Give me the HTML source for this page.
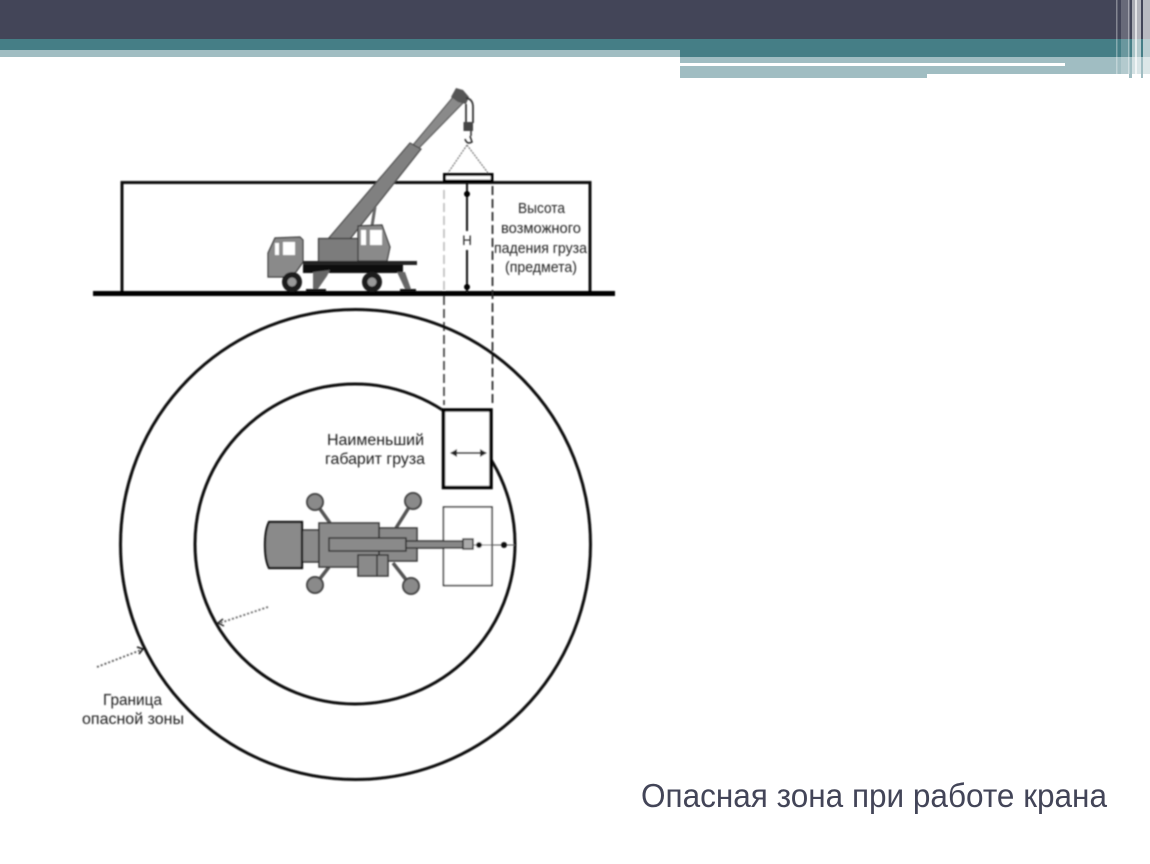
<!DOCTYPE html>
<html lang="ru">
<head>
<meta charset="utf-8">
<title>Опасная зона при работе крана</title>
<style>
html,body{margin:0;padding:0;background:#fff;width:1150px;height:864px;overflow:hidden}
svg{display:block}
text{font-family:"Liberation Sans","DejaVu Sans",sans-serif}
</style>
</head>
<body>
<svg width="1150" height="864" viewBox="0 0 1150 864" xmlns="http://www.w3.org/2000/svg">
<defs>
<filter id="b" x="-5%" y="-5%" width="110%" height="110%"><feGaussianBlur stdDeviation="0.75"/></filter>
</defs>
<rect width="1150" height="864" fill="#fff"/>

<!-- header -->
<rect x="0" y="0" width="1150" height="39" fill="#434558"/>
<rect x="0" y="39" width="1150" height="18" fill="#457e86"/>
<rect x="0" y="50" width="680" height="7" fill="#a0bdc2"/>
<rect x="680" y="57" width="470" height="17" fill="#a0bdc2"/>
<rect x="680" y="74" width="247" height="4" fill="#a0bdc2"/>
<rect x="680" y="63" width="385" height="3" fill="#fff"/>
<!-- right stripes -->
<g fill="#fff">
<rect x="1116" y="0" width="1.500" height="74" opacity=".35"/>
<rect x="1121" y="0" width="7" height="74" opacity=".2"/>
<rect x="1128" y="0" width="1.500" height="74" opacity=".5"/>
<rect x="1132" y="0" width="3" height="78" opacity=".55"/>
<rect x="1135" y="0" width="2" height="78" opacity=".85"/>
<rect x="1137" y="0" width="4" height="78" opacity=".6"/>
<rect x="1143" y="0" width="7" height="78" opacity=".63"/>
</g>
<rect x="1129" y="74" width="3" height="4" fill="#a0bdc2"/>
<rect x="1141" y="74" width="2" height="4" fill="#a0bdc2"/>

<g filter="url(#b)">
<!-- building outline -->
<path d="M122 293V182.500H590V293" fill="none" stroke="#111" stroke-width="3"/>
<!-- ground -->
<rect x="93" y="291" width="522" height="5" fill="#000"/>

<!-- boom -->
<polygon points="413,145 453,97 463,103 419,148" fill="#8a8a8a" stroke="#444" stroke-width="1"/>
<polygon points="328,239 410,143 421,149 350,239" fill="#808080" stroke="#444" stroke-width="1.200"/>
<polygon points="451,97 456,88 463,90 469,97 466,104 458,102" fill="#555"/>
<!-- cable and hook -->
<path d="M466 98Q473 99 473 107V123M466 104V123" fill="none" stroke="#333" stroke-width="1.800"/>
<rect x="463.500" y="122" width="9.500" height="9" fill="#444"/>
<path d="M471 131V136M465 139Q467 145 472 142L470 136" fill="none" stroke="#222" stroke-width="1.500"/>
<path d="M467 145L448 173M467 145L488 173" fill="none" stroke="#666" stroke-width="1.100" stroke-dasharray="2 1"/>
<!-- load -->
<rect x="444.500" y="174.500" width="47.500" height="6.500" fill="#fff" stroke="#000" stroke-width="3"/>

<!-- truck side -->
<path d="M375 207L372 226" stroke="#666" stroke-width="3"/>
<polygon points="268,272 268,253 275,238 300,237 303,240 303,262 296,272 284,277 268,277" fill="#8a8a8a" stroke="#333" stroke-width="1.200"/>
<rect x="283" y="242" width="12" height="13" fill="#fff"/>
<rect x="275" y="243" width="4" height="12" fill="#fff"/>
<rect x="318.500" y="238.500" width="40" height="23" fill="#7c7c7c" stroke="#333" stroke-width="1.200"/>
<polygon points="358,226 382,225 390,247 387,261 358,261" fill="#8a8a8a" stroke="#333" stroke-width="1.200"/>
<rect x="370" y="230" width="12" height="15" fill="#fff"/>
<rect x="361" y="230" width="5" height="15" fill="#fff"/>
<rect x="303" y="261" width="114" height="4" fill="#222"/>
<rect x="303" y="265" width="100" height="8" fill="#111"/>
<polygon points="313,272 330,270 327,276 318,289 313,289" fill="#666"/>
<polygon points="397,272 405,272 411,289 405,289" fill="#666"/>
<rect x="306" y="289" width="20" height="3" fill="#111"/>
<rect x="400" y="289" width="16" height="3" fill="#111"/>
<circle cx="292" cy="282" r="10" fill="#1a1a1a"/><circle cx="292" cy="282" r="4.500" fill="#999"/>
<circle cx="372" cy="282" r="10" fill="#1a1a1a"/><circle cx="372" cy="282" r="4.500" fill="#999"/>

<!-- height dimension -->
<path d="M467 183V231M467 250V293" stroke="#111" stroke-width="2"/>
<circle cx="467" cy="194" r="3" fill="#000"/>
<circle cx="467" cy="287" r="3" fill="#000"/>
<text x="467" y="245" font-size="13.500" fill="#222" text-anchor="middle">Н</text>

<!-- dashes -->
<path d="M444 190V291" stroke="#bbb" stroke-width="1.600" stroke-dasharray="9 4"/>
<path d="M444 296V405" stroke="#333" stroke-width="1.600" stroke-dasharray="9 4"/>
<path d="M492.500 186V405" stroke="#222" stroke-width="1.700" stroke-dasharray="9 4"/>

<!-- circles -->
<circle cx="355.500" cy="544.500" r="235" fill="none" stroke="#111" stroke-width="3"/>
<circle cx="355" cy="544" r="160" fill="none" stroke="#111" stroke-width="3"/>

<!-- smallest size rect -->
<rect x="443.500" y="410" width="47.500" height="77.500" fill="#fff" stroke="#000" stroke-width="3.500"/>
<path d="M451 453H486" stroke="#222" stroke-width="1.800"/>
<path d="M457 449L450 453L457 457ZM480 449L487 453L480 457Z" fill="#222"/>
<!-- faint rect -->
<rect x="443.500" y="507" width="48.500" height="78.500" fill="#fff" stroke="#333" stroke-width="1.500"/>

<!-- truck plan -->
<g stroke="#555" stroke-width="3.500"><path d="M315 502L330 523M413 501L396 528M315 585L329 567M411 586L393 563"/></g>
<g fill="#8a8a8a" stroke="#444" stroke-width="2">
<circle cx="315" cy="502" r="8"/><circle cx="413" cy="501" r="8"/><circle cx="315" cy="585" r="8"/><circle cx="411" cy="586" r="8"/>
</g>
<g fill="#8a8a8a" stroke="#333" stroke-width="1.500">
<rect x="302" y="530" width="17" height="32"/>
<path d="M269 522H302V568H269Q265 560 265 545Q265 530 269 522Z" stroke="#111" stroke-width="2.200"/>
<rect x="379" y="528" width="38" height="33"/>
<rect x="319" y="523" width="60" height="44"/>
<rect x="358" y="555" width="30" height="21"/>
<path d="M377 555V576" fill="none"/>
<rect x="329" y="538" width="77" height="13"/>
<rect x="406" y="541" width="57" height="7" fill="#888"/>
<rect x="463" y="539" width="10" height="10" fill="#aaa"/>
</g>
<path d="M473 545H515" stroke="#555" stroke-width="1.100"/>
<circle cx="479" cy="545" r="3" fill="#111"/>
<circle cx="504" cy="545" r="3" fill="#111"/>

<!-- pointers -->
<path d="M97 667L141 650" stroke="#555" stroke-width="1.800" stroke-dasharray="2 2"/>
<path d="M137 647L143 649L139 654" fill="none" stroke="#111" stroke-width="1.500"/>
<path d="M268 607L220 623" stroke="#666" stroke-width="1.800" stroke-dasharray="2 2"/>
<path d="M223 619L218 623L224 626" fill="none" stroke="#222" stroke-width="1.500"/>

<!-- labels -->
<g fill="#222" font-size="14.500">
<text x="518" y="213" textLength="47" lengthAdjust="spacingAndGlyphs">Высота</text>
<text x="501" y="233" textLength="80" lengthAdjust="spacingAndGlyphs">возможного</text>
<text x="494" y="253" textLength="93" lengthAdjust="spacingAndGlyphs">падения груза</text>
<text x="505" y="272" textLength="72" lengthAdjust="spacingAndGlyphs">(предмета)</text>
</g>
<g fill="#1c1c1c" font-size="15.500">
<text x="327" y="445" textLength="97" lengthAdjust="spacingAndGlyphs">Наименьший</text>
<text x="325" y="464" textLength="100" lengthAdjust="spacingAndGlyphs">габарит груза</text>
<text x="103" y="705" textLength="59" lengthAdjust="spacingAndGlyphs">Граница</text>
<text x="82" y="724" textLength="102" lengthAdjust="spacingAndGlyphs">опасной зоны</text>
</g>
</g>

<text x="641" y="807" font-size="33" fill="#434558" textLength="466" lengthAdjust="spacingAndGlyphs">Опасная зона при работе крана</text>
</svg>
</body>
</html>
